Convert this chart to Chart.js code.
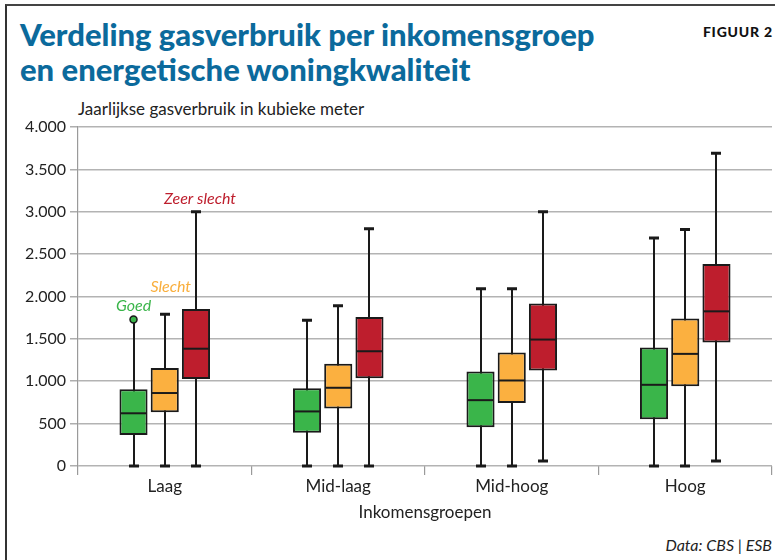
<!DOCTYPE html>
<html>
<head>
<meta charset="utf-8">
<script src="https://cdn.jsdelivr.net/npm/chart.js@4/dist/chart.umd.min.js"></script>
<style>
  html, body { margin: 0; padding: 0; background: #fff; }
  body { width: 775px; height: 560px; position: relative; overflow: hidden; font-family: Lato, "Open Sans", sans-serif; }
  #frame { position: absolute; left: 5px; top: 4px; width: 800px; height: 600px; border-left: 2px solid #333; border-top: 2px solid #444; }
  #title { position: absolute; left: 20px; top: 17px; color: #0b6a9c; font-family: Lato, sans-serif; font-weight: 900; font-size: 31px; line-height: 35px; letter-spacing: 0px; white-space: nowrap; }
  #fig { position: absolute; right: 2px; top: 23px; font-family: Lato, sans-serif; font-weight: 900; font-size: 14px; letter-spacing: 0.8px; color: #111; }
  #ytitle { position: absolute; left: 78px; top: 98px; font-size: 17px; color: #222; white-space: nowrap; }
  #source { position: absolute; right: 3px; top: 535px; font-size: 16px; font-style: italic; color: #222; white-space: nowrap; }
  canvas { position: absolute; left: 0; top: 0; }
</style>
</head>
<body>
<div id="frame"></div>
<div id="title">Verdeling gasverbruik per inkomensgroep<br>en energetische woningkwaliteit</div>
<div id="fig">FIGUUR 2</div>
<div id="ytitle">Jaarlijkse gasverbruik in kubieke meter</div>
<div id="source">Data: CBS | ESB</div>
<canvas id="c" width="775" height="560"></canvas>
<script>
// ---- data ----
const categories = ['Laag', 'Mid-laag', 'Mid-hoog', 'Hoog'];
const seriesNames = ['Goed', 'Slecht', 'Zeer slecht'];
const yTicks = [0, 500, 1000, 1500, 2000, 2500, 3000, 3500, 4000];

const goedMin    = [0, 0, 0, 0];
const goedQ1     = [365, 393, 456, 553];
const goedMedian = [622, 644, 777, 958];
const goedQ3     = [905, 918, 1115, 1398];
const goedMax    = [1730, 1720, 2090, 2690];
const goedOutlier = [1730, null, null, null];

const slechtMin    = [0, 0, 0, 0];
const slechtQ1     = [634, 679, 742, 942];
const slechtMedian = [861, 923, 1009, 1323];
const slechtQ3     = [1156, 1206, 1339, 1739];
const slechtMax    = [1790, 1890, 2090, 2790];
const slechtOutlier = [null, null, null, null];

const zeerSlechtMin    = [0, 0, 60, 60];
const zeerSlechtQ1     = [1027, 1036, 1127, 1457];
const zeerSlechtMedian = [1384, 1354, 1492, 1825];
const zeerSlechtQ3     = [1853, 1759, 1916, 2383];
const zeerSlechtMax    = [3000, 2800, 3000, 3690];
const zeerSlechtOutlier = [null, null, null, null];

// ---- styling ----
const colors = ['#3ab54a', '#fbb040', '#be1e2d'];
const labelColors = ['#3ab54a', '#f9ae3c', '#be1e2d'];
const labelOffsets = [[0, -8], [6, -22], [4, -8]];

function mkDataset(i, q1, q3, mn, md, mx, out) {
  return {
    label: seriesNames[i],
    data: q1.map((v, k) => [v, q3[k]]),
    backgroundColor: colors[i],
    borderColor: '#1a1a1a',
    borderWidth: 2,
    borderSkipped: false,
    barPercentage: 0.9,
    categoryPercentage: 0.54,
    stats: { min: mn, median: md, max: mx, outlier: out },
    noteColor: labelColors[i],
    noteOffset: labelOffsets[i]
  };
}

const datasets = [
  mkDataset(0, goedQ1, goedQ3, goedMin, goedMedian, goedMax, goedOutlier),
  mkDataset(1, slechtQ1, slechtQ3, slechtMin, slechtMedian, slechtMax, slechtOutlier),
  mkDataset(2, zeerSlechtQ1, zeerSlechtQ3, zeerSlechtMin, zeerSlechtMedian, zeerSlechtMax, zeerSlechtOutlier)
];

const boxPlugin = {
  id: 'boxWhiskers',
  beforeDatasetsDraw(chart) {
    const ctx = chart.ctx, y = chart.scales.y;
    ctx.save();
    ctx.strokeStyle = '#1a1a1a';
    ctx.lineWidth = 2;
    chart.data.datasets.forEach((ds, di) => {
      const meta = chart.getDatasetMeta(di);
      meta.data.forEach((el, k) => {
        const x = Math.round(el.x);
        const yMin = y.getPixelForValue(ds.stats.min[k]);
        const yMax = y.getPixelForValue(ds.stats.max[k]);
        ctx.beginPath();
        ctx.moveTo(x, yMin); ctx.lineTo(x, yMax);
        ctx.stroke();
        ctx.lineWidth = 3;
        ctx.beginPath();
        ctx.moveTo(x - 5, yMin); ctx.lineTo(x + 5, yMin);
        if (ds.stats.outlier[k] == null) { ctx.moveTo(x - 5, yMax); ctx.lineTo(x + 5, yMax); }
        ctx.stroke();
        ctx.lineWidth = 2;
      });
    });
    ctx.restore();
  },
  afterDatasetsDraw(chart) {
    const ctx = chart.ctx, y = chart.scales.y;
    ctx.save();
    chart.data.datasets.forEach((ds, di) => {
      const meta = chart.getDatasetMeta(di);
      meta.data.forEach((el, k) => {
        const half = el.width / 2;
        const ym = y.getPixelForValue(ds.stats.median[k]);
        ctx.strokeStyle = '#1a1a1a';
        ctx.lineWidth = 2;
        ctx.beginPath();
        ctx.moveTo(el.x - half + 1, ym); ctx.lineTo(el.x + half - 1, ym);
        ctx.stroke();
        if (ds.stats.outlier[k] != null) {
          ctx.beginPath();
          ctx.arc(el.x, y.getPixelForValue(ds.stats.outlier[k]), 3.5, 0, Math.PI * 2);
          ctx.fillStyle = ds.backgroundColor;
          ctx.fill();
          ctx.lineWidth = 1.5;
          ctx.stroke();
        }
      });
      // series note above first category
      const el0 = meta.data[0];
      const top = ds.stats.outlier[0] != null ? ds.stats.outlier[0] : ds.stats.max[0];
      ctx.font = 'italic 16px Lato, "Open Sans", sans-serif';
      ctx.fillStyle = ds.noteColor;
      ctx.textAlign = 'center';
      ctx.textBaseline = 'alphabetic';
      ctx.fillText(ds.label, el0.x + ds.noteOffset[0], y.getPixelForValue(top) + ds.noteOffset[1]);
    });
    ctx.restore();
  }
};

new Chart(document.getElementById('c'), {
  type: 'bar',
  data: { labels: categories, datasets: datasets },
  plugins: [boxPlugin],
  options: {
    responsive: false,
    animation: false,
    devicePixelRatio: 1,
    layout: { padding: { top: 127, left: 0, right: 3, bottom: 34 } },
    plugins: { legend: { display: false }, tooltip: { enabled: false } },
    scales: {
      x: {
        offset: true,
        grid: {
          offset: true,
          drawOnChartArea: true,
          color: (c) => (c.index === categories.length ? '#9a9a9a' : 'rgba(0,0,0,0)'),
          tickColor: '#9a9a9a',
          tickLength: 9,
          lineWidth: 1.2
        },
        border: { display: false },
        ticks: { color: '#222', font: { family: 'Lato, "Open Sans", sans-serif', size: 17 }, padding: 1 },
        title: { display: true, text: 'Inkomensgroepen', color: '#222', font: { family: 'Lato, "Open Sans", sans-serif', size: 17 }, padding: { top: 0, bottom: 3 } },
        afterFit: (s) => { s.height = 60; }
      },
      y: {
        min: 0, max: 4000,
        afterBuildTicks: (s) => { s.ticks = yTicks.map(v => ({ value: v })); },
        grid: { color: '#b3b3b3', lineWidth: 1.6, tickLength: 8, tickColor: '#9a9a9a', tickWidth: 1.2 },
        border: { display: true, color: '#9a9a9a', width: 1.2 },
        ticks: {
          color: '#222',
          padding: 4,
          font: { family: 'Lato, "Open Sans", sans-serif', size: 16 },
          callback: (v) => String(v).replace(/\B(?=(\d{3})+(?!\d))/g, '.')
        },
        afterFit: (s) => { s.width = 78; }
      }
    }
  }
});
</script>
</body>
</html>
